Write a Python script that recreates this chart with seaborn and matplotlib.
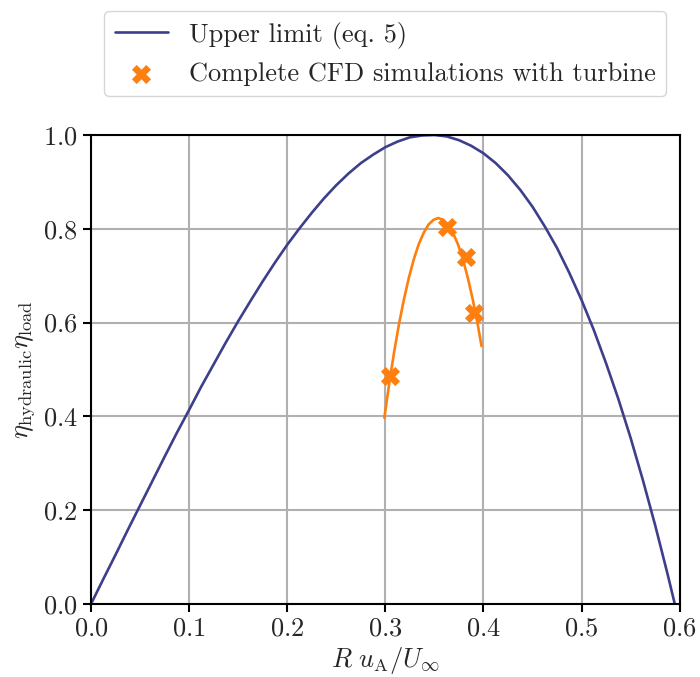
import matplotlib
matplotlib.use("Agg")
import matplotlib.pyplot as plt
import seaborn as sns

# ── Data ──────────────────────────────────────────────────────────────────────

# Upper limit curve (eq. 5)
limit_x = [0.0, 0.0125, 0.025, 0.0375, 0.05, 0.0625, 0.075, 0.0875, 0.1, 0.1125,
           0.125, 0.1375, 0.15, 0.1625, 0.175, 0.1875, 0.2, 0.2125, 0.225, 0.2375,
           0.25, 0.2625, 0.275, 0.2875, 0.3, 0.3125, 0.325, 0.3375, 0.35, 0.3625,
           0.375, 0.3875, 0.4, 0.4125, 0.425, 0.4375, 0.45, 0.4625, 0.475, 0.4875,
           0.5, 0.5125, 0.525, 0.5375, 0.55, 0.5625, 0.575, 0.5875, 0.595]
limit_y = [0.0, 0.053, 0.105, 0.158, 0.210, 0.262, 0.314, 0.365, 0.414, 0.464,
           0.511, 0.558, 0.603, 0.646, 0.688, 0.728, 0.766, 0.801, 0.834, 0.865,
           0.893, 0.918, 0.940, 0.958, 0.974, 0.986, 0.995, 0.999, 1.0, 0.997,
           0.989, 0.977, 0.961, 0.940, 0.914, 0.883, 0.847, 0.805, 0.759, 0.706,
           0.648, 0.584, 0.513, 0.437, 0.354, 0.264, 0.168, 0.065, 0.0]

# Fit through the CFD results
fit_x = [0.299, 0.304, 0.309, 0.314, 0.319, 0.324, 0.329, 0.334, 0.339, 0.344, 0.349,
         0.354, 0.359, 0.364, 0.369, 0.374, 0.379, 0.384, 0.389, 0.394, 0.398]
fit_y = [0.397, 0.471, 0.538, 0.598, 0.650, 0.696, 0.735, 0.767, 0.791, 0.809, 0.819,
         0.823, 0.819, 0.809, 0.791, 0.767, 0.735, 0.696, 0.650, 0.598, 0.550]

# Complete CFD simulations with turbine
cfd_x = [0.3051, 0.3624, 0.3820, 0.3902]
cfd_y = [0.486, 0.804, 0.7395, 0.621]

x_ticks = [0.0, 0.1, 0.2, 0.3, 0.4, 0.5, 0.6]
y_ticks = [0.0, 0.2, 0.4, 0.6, 0.8, 1.0]

LIMIT_COLOR = "#3d3f8b"
CFD_COLOR = "#ff7f0e"
FONT_SIZE = 19

# ── Style ─────────────────────────────────────────────────────────────────────

sns.set_style("ticks")
plt.rcParams["font.family"] = ["cmr10", "DejaVu Serif"]
plt.rcParams["mathtext.fontset"] = "cm"
plt.rcParams["axes.formatter.use_mathtext"] = True
plt.rcParams["font.size"] = FONT_SIZE

fig = plt.figure(figsize=(7, 6.77), dpi=100)
ax = fig.add_axes([0.13, 0.1078, 0.841, 0.6928])

sns.lineplot(x=limit_x, y=limit_y, color=LIMIT_COLOR, lw=1.9, sort=False,
             label="Upper limit (eq. 5)", ax=ax)
sns.lineplot(x=fit_x, y=fit_y, color=CFD_COLOR, lw=1.9, sort=False, legend=False, ax=ax)
sns.scatterplot(x=cfd_x, y=cfd_y, color=CFD_COLOR, marker="X", s=190, linewidth=0,
                label="Complete CFD simulations with turbine", ax=ax, zorder=3)

ax.set_xlim(0, 0.6)
ax.set_ylim(0, 1.0)
ax.set_xticks(x_ticks)
ax.set_yticks(y_ticks)
ax.grid(True, color="#b0b0b0", lw=1.5)
ax.set_axisbelow(True)
for side in ["top", "right", "left", "bottom"]:
    ax.spines[side].set_visible(True)
    ax.spines[side].set_color("black")
    ax.spines[side].set_linewidth(1.5)
ax.tick_params(axis="both", labelsize=FONT_SIZE, length=6, width=1.5, color="black")

ax.set_xlabel(r"$R\ u_\mathrm{A}/U_\infty$", fontsize=FONT_SIZE, labelpad=3)
ax.set_ylabel(r"$\eta_\mathrm{hydraulic}\eta_\mathrm{load}$", fontsize=FONT_SIZE, labelpad=4)

ax.legend(loc="lower center", bbox_to_anchor=(0.5, 1.083), fontsize=FONT_SIZE,
          frameon=True, edgecolor="#cccccc", fancybox=True, borderaxespad=0)

fig.savefig("out.png", dpi=100)
